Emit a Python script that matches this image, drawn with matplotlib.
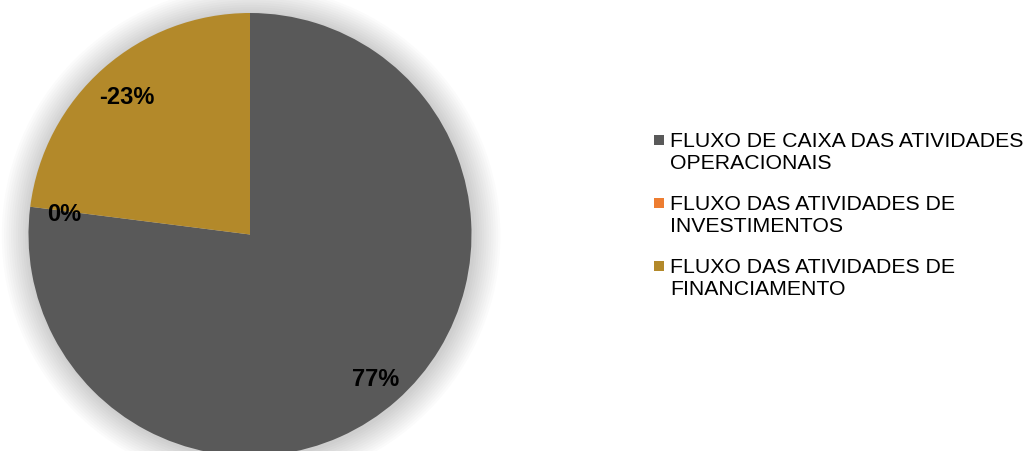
import matplotlib.pyplot as plt
from matplotlib.patches import Circle, Rectangle

categorias = [
    "FLUXO DE CAIXA DAS ATIVIDADES\nOPERACIONAIS",
    "FLUXO DAS ATIVIDADES DE\nINVESTIMENTOS",
    "FLUXO DAS ATIVIDADES DE\nFINANCIAMENTO",
]
valores = [0.77, 0.0, -0.23]
rotulos = ["77%", "0%", "-23%"]
cores = ["#595959", "#ED7D31", "#B3892A"]

plt.rcParams["font.family"] = ["Liberation Sans", "DejaVu Sans"]

W, H = 1032, 451
fig = plt.figure(figsize=(W / 100, H / 100), dpi=100)

# eixo da pizza em pixels: centro (250, 234.5), raio 221.5
cx, cy, r = 250, 234.5, 221.5
ax = fig.add_axes([(cx - r) / W, (H - cy - r) / H, 2 * r / W, 2 * r / H])

# sombra suave em volta
for i in range(12):
    rad = 1.0 + 0.0105 * (i + 1)
    ax.add_patch(Circle((0.005, -0.005), rad, color="#000000", alpha=0.016,
                        lw=0, clip_on=False, zorder=0))

tamanhos = [abs(v) for v in valores]
wedges, textos = ax.pie(
    tamanhos, colors=cores, startangle=90, counterclock=False,
    labels=rotulos, labeldistance=0.85, radius=1,
    wedgeprops=dict(linewidth=0),
    textprops=dict(fontsize=17, fontweight="bold", color="black",
                   ha="center", va="center"),
)
for w in wedges:
    w.set_zorder(2)
for t in textos:
    t.set_zorder(3)
    t.set_clip_on(False)
    x, y = t.get_position()
    t.set_position((x + 0.005, y - 0.017))

ax.set_xlim(-1, 1)
ax.set_ylim(-1, 1)
ax.set_aspect("equal")
ax.axis("off")

# legenda manual
y0 = 140
passo = 63
for i, (lab, cor) in enumerate(zip(categorias, cores)):
    y = y0 + i * passo
    fig.patches.append(Rectangle(((654) / W, (H - y - 5) / H), 10 / W, 10 / H,
                                 transform=fig.transFigure, color=cor, lw=0))
    fig.text(670 / W, (H - y + 8) / H, lab, fontsize=15.3, va="top", ha="left",
             linespacing=1.2, color="#000000")

fig.savefig("out.png", dpi=100)
